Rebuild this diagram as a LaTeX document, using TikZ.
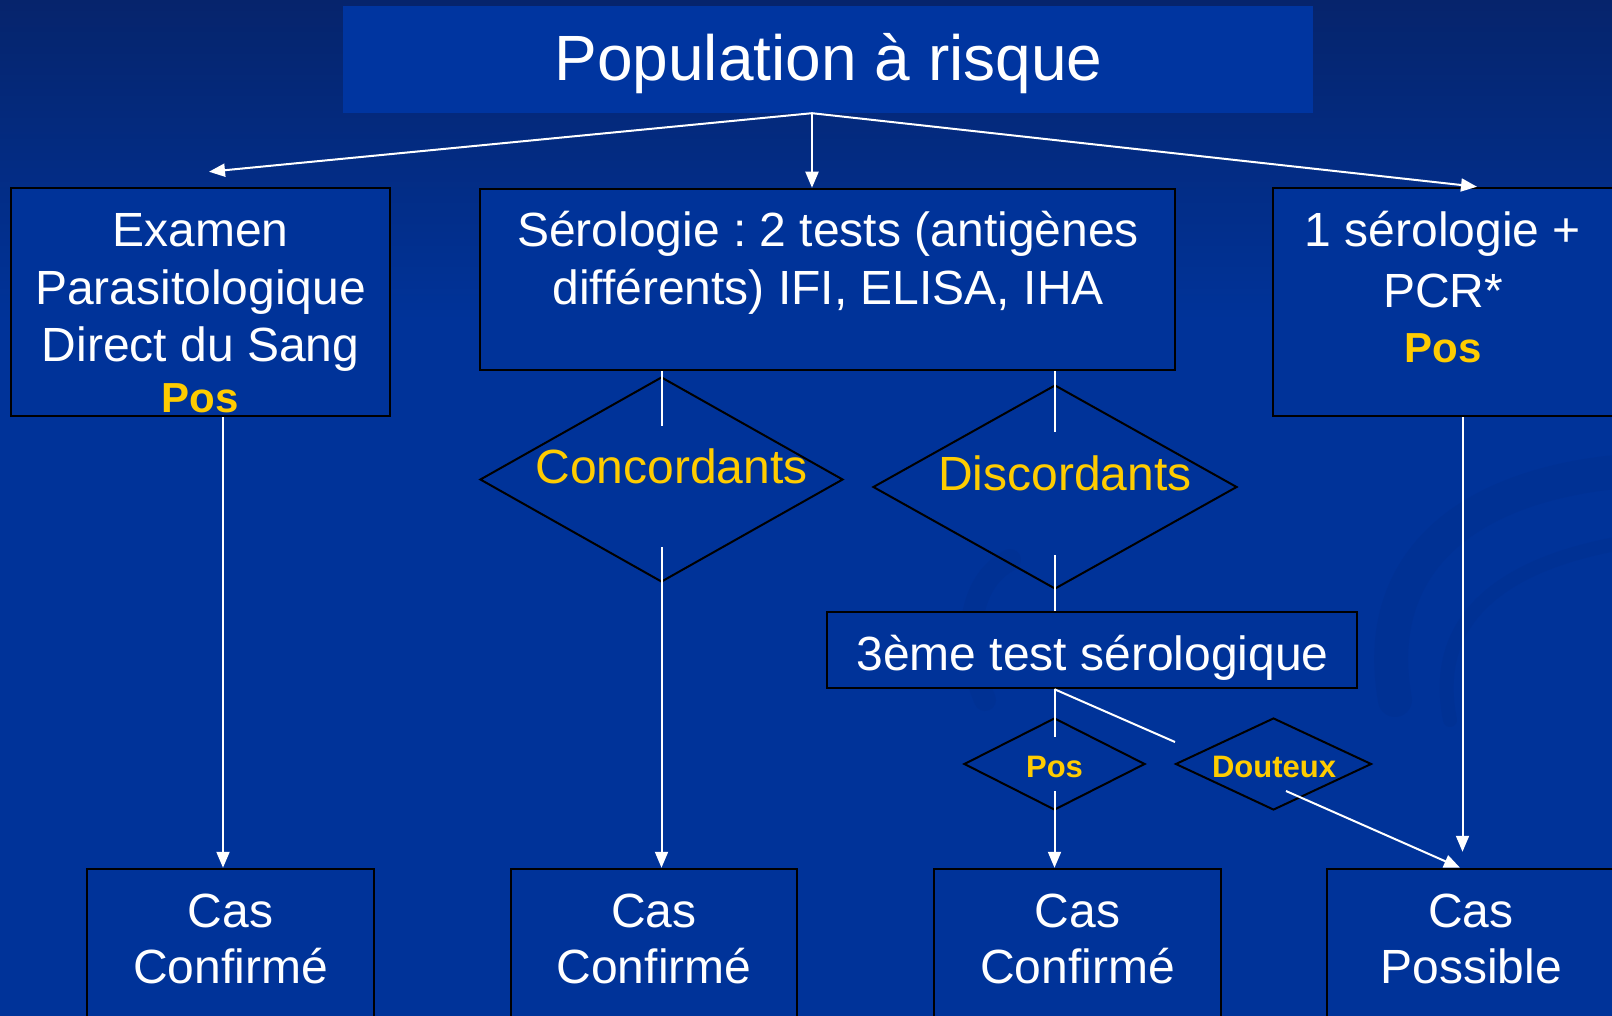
\documentclass[tikz,border=0pt]{standalone}
\usepackage{fontspec}
\setmainfont{Liberation Sans}
\usetikzlibrary{shapes.geometric,arrows.meta}
\definecolor{bgblue}{RGB}{0,51,153}
\definecolor{bgdark}{RGB}{6,36,108}
\definecolor{swirlblue}{RGB}{0,45,138}
\definecolor{titleblue}{RGB}{0,53,160}
\definecolor{posyellow}{RGB}{255,204,0}

\begin{document}
\frenchspacing
\begin{tikzpicture}[x=1pt,y=-1pt]
    \tikzstyle{box}=[rectangle,draw=black,line width=2.5pt,fill=bgblue,inner sep=0pt]
    \tikzstyle{choice}=[diamond,draw=black,line width=2pt,inner sep=0pt]
    \tikzstyle{txt}=[text=white,align=center,inner sep=0pt,font=\fontsize{48}{57.6}\selectfont]
    \tikzstyle{ytxt}=[txt,text=posyellow]
    \tikzstyle{link}=[draw=white,line width=2pt]
    \tikzstyle{arr}=[link,-{Triangle[length=16pt,width=13pt]}]
    \tikzstyle{swirl}=[draw=swirlblue,line cap=round,opacity=0.3]

    % background
    \path[use as bounding box,clip] (0,0) rectangle (1612,1016);
    \fill[bgblue] (0,0) rectangle (1612,1016);
    \shade[top color=bgdark,bottom color=bgblue] (0,0) rectangle (1612,320);
    \draw[swirl,line width=34pt] (1640,470) .. controls (1470,480) and (1370,560) .. (1395,700);
    \draw[swirl,line width=14pt] (1640,540) .. controls (1500,560) and (1430,620) .. (1450,720);
    \draw[swirl,line width=22pt] (1010,560) .. controls (970,580) and (960,640) .. (985,700);

    \node[rectangle,fill=titleblue,minimum width=970pt,minimum height=107pt,inner sep=0pt] (title) at (828,59.5) {};
    \node[txt,font=\fontsize{64}{77}\selectfont] (title-txt) at (828.5,64) {Population à risque};

    % boxes
    \node[box,minimum width=379pt,minimum height=228pt] (exam) at (200.5,302) {};
    \node[box,minimum width=695pt,minimum height=181pt] (sero) at (827.5,279.5) {};
    \node[box,minimum width=340pt,minimum height=228pt] (pcr) at (1443,302) {};
    \node[box,minimum width=530pt,minimum height=76pt] (test3) at (1092,650) {};
    \foreach \name/\x/\w in {cas1/230.5/287, cas2/654/286, cas3/1077.5/287, cas4/1471/288}
        \node[box,minimum width=\w*1pt,minimum height=171pt] (\name) at (\x,954.5) {};

    % choices
    \node[choice,minimum width=363pt,minimum height=205pt] (conc) at (661.5,479.5) {};
    \node[choice,minimum width=364pt,minimum height=204pt] (disc) at (1055,487) {};
    \node[choice,minimum width=181pt,minimum height=92pt] (pos) at (1054.5,764) {};
    \node[choice,minimum width=196pt,minimum height=92pt] (dout) at (1273.5,764) {};

    % texts
    \node[txt] (exam-txt) at (200.5,313.5) {Examen\\Parasitologique\\Direct du Sang\\[-6.6pt]{\fontsize{42}{50}\selectfont\bfseries\color{posyellow}Pos}};
    \node[txt] (sero-txt) at (828,263) {Sérologie : 2 tests (antigènes\\différents) IFI, ELISA, IHA};
    \node[txt] (pcr-txt) at (1443,287.3) {1 sérologie +\\[3.4pt]PCR*\\[-2.6pt]{\fontsize{42}{50}\selectfont\bfseries\color{posyellow}Pos}};
    \node[ytxt] (conc-txt) at (671.5,466) {Concordants};
    \node[ytxt] (disc-txt) at (1065,473) {Discordants};
    \node[txt] (test3-txt) at (1092.5,657.5) {3ème test sérologique};
    \node[ytxt,font=\fontsize{31}{37}\selectfont\bfseries] (pos-txt) at (1054.5,767) {Pos};
    \node[ytxt,font=\fontsize{31}{37}\selectfont\bfseries] (dout-txt) at (1274,767) {Douteux};
    \foreach \name/\x/\sub in {cas1/230.5/Confirmé, cas2/654/Confirmé, cas3/1077.5/Confirmé, cas4/1471/Possible}
        \node[txt,font=\fontsize{48}{56}\selectfont] (\name-txt) at (\x,938.5) {Cas\\\sub};

    % connectors
    \draw[arr] ([xshift=-16pt]title.south) -- ([shift={(8.5,-15)}]exam.north);
    \draw[arr] ([xshift=-16pt]title.south) -- ([xshift=-15.5pt]sero.north);
    \draw[arr] ([xshift=-16pt]title.south) -- ([xshift=34pt]pcr.north);
    \draw[arr] ([xshift=22.5pt]exam.south) -- ([xshift=22.5pt]exam.south |- cas1.north);
    \draw[link,shorten >=53.5pt] (sero.south -| conc.center) -- (conc.center);
    \draw[arr,shorten <=67.5pt] (conc.center) -- (conc.center |- cas2.north);
    \draw[link,shorten >=55pt] (sero.south -| disc.center) -- (disc.center);
    \draw[link,shorten <=68pt] (disc.center) -- (disc.center |- test3.north);
    \draw[link,shorten >=27pt] (test3.south -| pos.center) -- (pos.center);
    \draw[arr,shorten <=27pt] (pos.center) -- (pos.center |- cas3.north);
    \coordinate (dout-in) at ([shift={(-98.5,-22)}]dout.center);
    \draw[link] (test3.south -| pos.center) -- (dout-in);
    \draw[arr] ([shift={(12.5,27)}]dout.center) -- ([xshift=-11pt]cas4.north);
    \draw[arr,shorten >=16pt] ([xshift=19.5pt]pcr.south) -- ([xshift=19.5pt]pcr.south |- cas4.north);
\end{tikzpicture}
\end{document}
